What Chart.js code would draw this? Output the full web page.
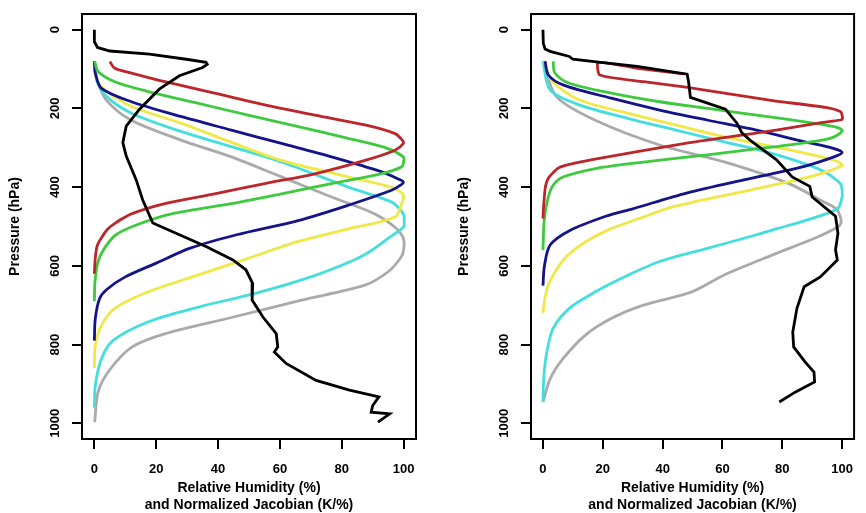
<!DOCTYPE html>
<html>
<head>
<meta charset="utf-8">
<script src="https://cdn.jsdelivr.net/npm/chart.js@4.4.1/dist/chart.umd.min.js"></script>
<style>
  body { margin: 0; background: #fff; }
  canvas { position: absolute; top: 0; }
</style>
</head>
<body>
<canvas id="left" width="433" height="513" style="left:0px"></canvas>
<canvas id="right" width="433" height="513" style="left:433px"></canvas>
<script>
//===========================================================================================
// ~~ DATA ~~

var xTicks = [0, 20, 40, 60, 80, 100];
var yTicks = [0, 200, 400, 600, 800, 1000];
var xTitle = ["Relative Humidity (%)", "and Normalized Jacobian (K/%)"];
var yTitle = "Pressure (hPa)";
var lineColors = ["#000000", "#bc262b", "#3ec93e", "#14148a", "#f0e848", "#44dede", "#aaaaaa"];

// left panel : relative humidity profile (black) + 6 jacobians
var leftRhPres = [0, 30, 45, 54, 62, 75, 83, 88, 96, 117, 151, 202, 245, 287, 321, 381, 432, 491, 517, 551, 585, 610, 645, 687, 730, 772, 806, 819, 848, 891, 916, 933, 955, 972, 976, 997];
var leftRhVal  = [0, 0, 1, 5, 17.8, 29.7, 36.1, 36.5, 35, 27.5, 21, 14.6, 10.3, 9.2, 10.3, 13.5, 15.6, 18.9, 26.4, 36.1, 44.8, 49, 51.2, 51, 54.5, 58.8, 59.3, 58.2, 62, 71.7, 82.5, 92, 90, 89.5, 95.5, 91.7];

var leftRedPres = [81, 98, 110, 132, 161, 191, 217, 242, 264, 280, 289, 306, 332, 366, 391, 417, 442, 468, 490, 505, 520, 547, 580, 620];
var leftRedVal  = [5, 6.6, 12, 22.8, 38.9, 55.1, 71.3, 87.5, 97.2, 99.5, 99.9, 97.2, 87.5, 71.3, 55.1, 38.9, 22.8, 12, 7, 4.5, 3, 1, 0.3, 0];

var leftGreenPres = [80, 106, 132, 157, 187, 217, 246, 276, 302, 323, 335, 348, 366, 391, 417, 442, 468, 495, 521, 555, 589, 640, 690];
var leftGreenVal  = [0.1, 1.2, 6.6, 17.4, 33.6, 49.7, 65.9, 82.1, 95, 99.9, 100, 99.4, 92.7, 76.7, 60.5, 44.3, 25, 14, 7, 3.3, 1.2, 0.2, 0];

var leftNavyPres = [80, 110, 149, 183, 221, 255, 289, 323, 361, 380, 387, 395, 408, 446, 485, 521, 555, 593, 628, 660, 683, 734, 790];
var leftNavyVal  = [0, 0.3, 2.3, 12, 28.2, 44.3, 60.5, 76.7, 92.9, 98.5, 99.9, 99, 96.1, 82.1, 65.9, 46, 31, 20, 10, 4, 1.7, 0.3, 0];

var leftYellowPres = [80, 120, 150, 195, 238, 285, 332, 374, 400, 412, 421, 440, 476, 506, 538, 581, 623, 666, 708, 751, 802, 860];
var leftYellowVal  = [0, 0.5, 3, 12, 28.2, 44, 60.5, 82.1, 96, 99, 100, 99.5, 97.2, 82.1, 65.9, 49.7, 33.6, 17.4, 6.6, 2.3, 0.3, 0];

var leftCyanPres = [80, 130, 170, 212, 259, 297, 336, 400, 438, 468, 485, 502, 530, 559, 585, 628, 670, 704, 742, 790, 836, 904, 960];
var leftCyanVal  = [0, 0.8, 4, 12, 28.2, 44.3, 60.5, 82.1, 96.1, 99.9, 100.2, 99.9, 95, 90, 84, 70, 52, 34, 17.5, 6, 2.3, 0.3, 0];

var leftGrayPres = [80, 130, 180, 230, 281, 323, 374, 425, 468, 502, 530, 560, 580, 615, 649, 687, 730, 772, 806, 866, 921, 997];
var leftGrayVal  = [0, 1, 4, 12, 28.2, 44.3, 60.5, 76.7, 90.7, 97.2, 99.9, 100, 99, 95, 87.5, 67, 45, 23, 12.2, 4.8, 1.2, 0.1];

// right panel
var rightRhPres = [0, 34, 49, 55, 68, 75, 83, 93, 113, 134, 172, 202, 238, 262, 281, 330, 374, 398, 425, 474, 517, 559, 585, 628, 653, 708, 768, 806, 844, 870, 895, 921, 946];
var rightRhVal  = [0, 0.1, 0.7, 2.4, 8.8, 10, 19.3, 31.5, 48.2, 48.7, 49.3, 61, 64.9, 66.5, 69.3, 78, 83.3, 89.2, 90, 97.8, 98.6, 97.8, 98.4, 92.7, 87.3, 84.9, 83.5, 83.8, 87.6, 90.6, 90.8, 84.3, 79];

var rightRedPres = [112, 98, 83, 115, 132, 146, 161, 180, 198, 208, 217, 228, 236, 255, 288, 331, 350, 375, 400, 451, 480];
var rightRedVal  = [47, 31.5, 18.5, 19, 33.6, 47.7, 60.6, 76.8, 95, 99.4, 100, 100, 93, 78, 48, 16, 5.5, 2, 0.8, 0.2, 0];

var rightGreenPres = [80, 110, 136, 161, 183, 200, 217, 234, 246, 255, 265, 276, 290, 304, 318, 335, 352, 375, 400, 434, 485, 560];
var rightGreenVal  = [3.4, 4, 8.8, 22.8, 39, 55.2, 71.4, 87.6, 97.3, 100, 99, 96, 85, 70, 55, 35, 18, 6.5, 3, 1.5, 0.4, 0];

var rightNavyPres = [80, 115, 140, 174, 204, 230, 255, 285, 302, 312, 323, 350, 380, 415, 455, 474, 510, 547, 600, 650];
var rightNavyVal  = [0.7, 1.8, 6.7, 22.8, 39, 55.2, 71.4, 87.6, 97.3, 100, 97.3, 86, 68, 48, 30, 21, 9, 2.4, 0.5, 0];

var rightYellowPres = [80, 130, 178, 212, 242, 272, 297, 323, 335, 345, 372, 406, 449, 480, 508, 540, 575, 610, 645, 680, 720];
var rightYellowVal  = [0.5, 3, 12.1, 28.3, 44.4, 60.6, 76.8, 93, 98.5, 100, 90, 70, 44, 32, 22, 14, 8, 4.5, 2, 0.7, 0];

var rightCyanPres = [80, 153, 191, 225, 255, 285, 315, 357, 391, 410, 425, 455, 485, 506, 521, 555, 589, 632, 666, 708, 759, 819, 880, 946];
var rightCyanVal  = [0, 2.4, 12.1, 28.3, 44.4, 60.6, 76.8, 93, 99.4, 100, 100, 98.4, 87.6, 78, 71.4, 55.2, 39, 26.1, 17.5, 8.8, 3.4, 1.3, 0.3, 0];

var rightGrayPres = [80, 170, 230, 293, 336, 391, 434, 455, 476, 490, 502, 530, 572, 623, 666, 700, 734, 776, 836, 887, 946];
var rightGrayVal  = [0, 4.5, 17.5, 39, 60.6, 82.2, 93, 98, 99.4, 99.7, 98.4, 90.8, 76.8, 60.6, 49.8, 33.6, 22.8, 14.2, 6.7, 2.4, 0];


//===========================================================================================
// ~~ HELPERS ~~

function toPoints(pres, vals) {
  var pts = [];
  for (var i = 0; i < pres.length; i++) {
    pts.push({x: vals[i], y: pres[i]});
  }
  return pts;
}

function makeDataset(pres, vals, color, tension) {
  return {
    data: toPoints(pres, vals),
    borderColor: color,
    borderWidth: 2.8,
    showLine: true,
    pointRadius: 0,
    tension: tension,
    fill: false
  };
}

// box around the plot region (R's box())
var boxPlugin = {
  id: 'box',
  afterDraw: function(chart) {
    var a = chart.chartArea;
    var ctx = chart.ctx;
    ctx.save();
    ctx.strokeStyle = '#000';
    ctx.lineWidth = 2;
    ctx.strokeRect(a.left, a.top, a.right - a.left, a.bottom - a.top);
    ctx.restore();
  }
};

var tickFont = {family: "'Liberation Sans', Arial, sans-serif", size: 13, weight: 'bold'};
var titleFont = {family: "'Liberation Sans', Arial, sans-serif", size: 14, weight: 'bold', lineHeight: '17px'};

function plainLabel(v) { return String(v); }


//===========================================================================================
// ~~ PANEL ~~

function drawPanel(where, datasets, padLeft, padRight) {
  new Chart(where, {
    type: 'scatter',
    data: { datasets: datasets },
    options: {
      responsive: false,
      animation: false,
      devicePixelRatio: 1,
      layout: { padding: { left: padLeft, right: padRight, top: 14, bottom: 0 } },
      plugins: { legend: { display: false }, tooltip: { enabled: false } },
      scales: {
        x: {
          type: 'linear', min: -4, max: 104,
          afterBuildTicks: function(s) { s.ticks = xTicks.map(function(v) { return {value: v}; }); },
          afterFit: function(s) { s.height = 74; },
          grid: { drawOnChartArea: false, drawTicks: true, tickLength: 10, color: '#000', lineWidth: 2 },
          border: { display: true, color: '#000', width: 2 },
          ticks: { color: '#000', font: tickFont, padding: 13, maxRotation: 0, minRotation: 0, callback: plainLabel },
          title: { display: true, text: xTitle, color: '#000', font: titleFont, padding: { top: 0, bottom: -1 } }
        },
        y: {
          type: 'linear', min: -40, max: 1040, reverse: true,
          afterBuildTicks: function(s) { s.ticks = yTicks.map(function(v) { return {value: v}; }); },
          afterFit: function(s) { s.width = 82; },
          grid: { drawOnChartArea: false, drawTicks: true, tickLength: 10, color: '#000', lineWidth: 2 },
          border: { display: true, color: '#000', width: 2 },
          ticks: { color: '#000', font: tickFont, padding: 2, minRotation: 90, maxRotation: 90, crossAlign: 'center', callback: plainLabel },
          title: { display: true, text: yTitle, color: '#000', font: titleFont, padding: { top: 7, bottom: 0 } }
        }
      }
    },
    plugins: [boxPlugin]
  });
}

var leftSets = [
  makeDataset(leftRhPres, leftRhVal, lineColors[0], 0),
  makeDataset(leftRedPres, leftRedVal, lineColors[1], 0.3),
  makeDataset(leftGreenPres, leftGreenVal, lineColors[2], 0.3),
  makeDataset(leftNavyPres, leftNavyVal, lineColors[3], 0.3),
  makeDataset(leftYellowPres, leftYellowVal, lineColors[4], 0.3),
  makeDataset(leftCyanPres, leftCyanVal, lineColors[5], 0.3),
  makeDataset(leftGrayPres, leftGrayVal, lineColors[6], 0.3)
];

var rightSets = [
  makeDataset(rightRhPres, rightRhVal, lineColors[0], 0),
  makeDataset(rightRedPres, rightRedVal, lineColors[1], 0.2),
  makeDataset(rightGreenPres, rightGreenVal, lineColors[2], 0.3),
  makeDataset(rightNavyPres, rightNavyVal, lineColors[3], 0.3),
  makeDataset(rightYellowPres, rightYellowVal, lineColors[4], 0.3),
  makeDataset(rightCyanPres, rightCyanVal, lineColors[5], 0.3),
  makeDataset(rightGrayPres, rightGrayVal, lineColors[6], 0.3)
];

drawPanel(document.getElementById('left'), leftSets, 0, 17);
drawPanel(document.getElementById('right'), rightSets, 16, 1);
</script>
</body>
</html>
